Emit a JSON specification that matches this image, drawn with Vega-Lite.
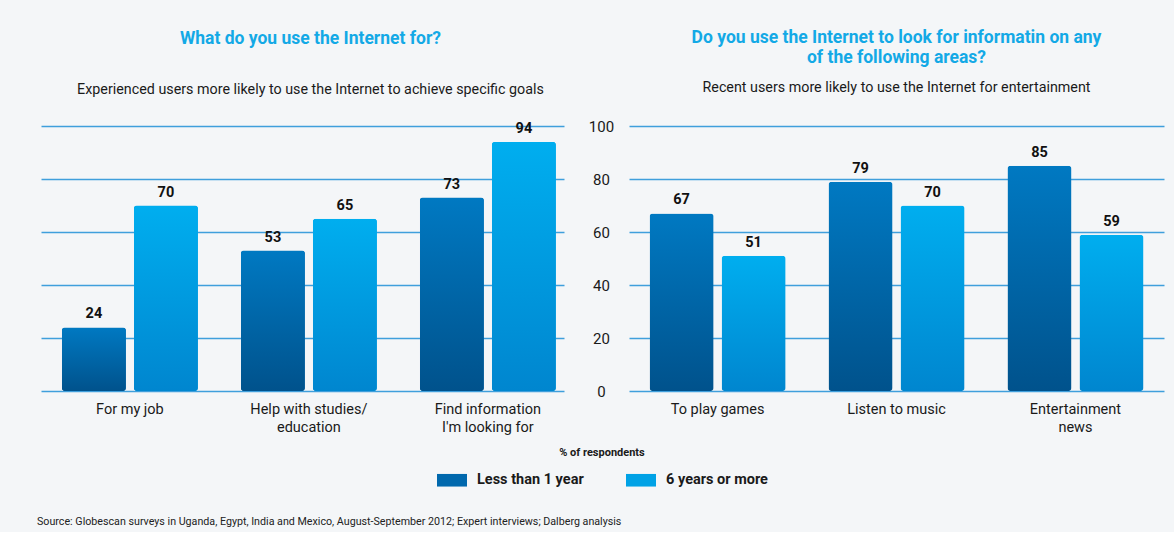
{
  "$schema": "https://vega.github.io/schema/vega-lite/v6.json",
  "background": "#f4f6f8",
  "padding": {"left": 37, "top": 29, "right": 10, "bottom": 5},
  "config": {
    "font": "Roboto",
    "view": {"stroke": null},
    "title": {"color": "#13a9e6", "fontSize": 17.5, "fontWeight": "bold", "subtitleColor": "#1a1a1a", "subtitleFontSize": 14.3, "subtitleFontWeight": "normal", "anchor": "middle", "lineHeight": 20}
  },
  "spacing": 65,
  "bounds": "flush",
  "title": {"text": "Source: Globescan surveys in Uganda, Egypt, India and Mexico, August-September 2012; Expert interviews; Dalberg analysis", "orient": "bottom", "anchor": "start", "fontSize": 10.7, "fontWeight": "normal", "color": "#222222", "dx": -4, "offset": 30},
  "hconcat": [
    {
      "width": 523,
      "height": 265,
      "title": {"text": "What do you use the Internet for?", "subtitle": "Experienced users more likely to use the Internet to achieve specific goals", "subtitlePadding": 35, "offset": 24, "dx": 8},
      "data": {"values": [
        {"category": "For my job", "group": "Less than 1 year", "value": 24},
        {"category": "For my job", "group": "6 years or more", "value": 70},
        {"category": "Help with studies/|education", "group": "Less than 1 year", "value": 53},
        {"category": "Help with studies/|education", "group": "6 years or more", "value": 65},
        {"category": "Find information|I'm looking for", "group": "Less than 1 year", "value": 73},
        {"category": "Find information|I'm looking for", "group": "6 years or more", "value": 94}
      ]},
      "encoding": {
        "x": {"field": "category", "type": "nominal", "sort": null, "title": null,
          "scale": {"paddingInner": 0.24, "paddingOuter": 0.081, "align": 0.72},
          "axis": {"labelAngle": 0, "labelExpr": "split(datum.label, '|')", "labelFontSize": 14.5, "labelColor": "#1a1a1a", "labelPadding": 11, "labelLineHeight": 18, "domain": false, "ticks": false}},
        "xOffset": {"field": "group", "type": "nominal", "sort": ["Less than 1 year", "6 years or more"], "scale": {"paddingInner": 0.111, "paddingOuter": 0}},
        "y": {"field": "value", "type": "quantitative", "scale": {"domain": [0, 100]}, "title": null,
          "axis": {"values": [0, 20, 40, 60, 80, 100], "labels": false, "ticks": false, "domain": false, "grid": true, "gridColor": "#3f9fdc", "gridWidth": 1.5}}
      },
      "layer": [
        {"mark": {"type": "bar", "cornerRadius": 3},
          "encoding": {"color": {"field": "group", "type": "nominal", "sort": ["Less than 1 year", "6 years or more"],
            "scale": {"domain": ["Less than 1 year", "6 years or more"], "range": ["#0068ad", "#00a2e6"]},
            "legend": {"title": "% of respondents", "orient": "none", "legendX": 396, "legendY": 321, "direction": "horizontal", "titleOrient": "top", "titleAnchor": "middle", "titleFontSize": 11, "titleFontWeight": "bold", "titleColor": "#1a1a1a", "titlePadding": 7, "labelFontSize": 14.5, "labelFontWeight": "bold", "labelColor": "#1a1a1a", "symbolType": "M-1,-0.42H1V0.42H-1Z", "symbolSize": 900, "symbolStrokeWidth": 0, "columnPadding": 42, "labelOffset": 10, "symbolOpacity": 1}}}},
        {"mark": {"type": "bar", "cornerRadius": 3},
          "encoding": {"color": {"condition": {"test": "datum.group === 'Less than 1 year'", "value": {"gradient": "linear", "x1": 0, "y1": 0, "x2": 0, "y2": 1, "stops": [{"offset": 0, "color": "#0079c2"}, {"offset": 1, "color": "#00528c"}]}},
            "value": {"gradient": "linear", "x1": 0, "y1": 0, "x2": 0, "y2": 1, "stops": [{"offset": 0, "color": "#00aeef"}, {"offset": 1, "color": "#0086cf"}]}}}},
        {"mark": {"type": "text", "baseline": "bottom", "dy": -6, "fontSize": 14.5, "fontWeight": "bold", "color": "#111111"},
          "encoding": {"text": {"field": "value", "type": "quantitative"}}}
      ]
    },
    {
      "width": 535,
      "height": 265,
      "title": {"text": ["Do you use the Internet to look for informatin on any", "of the following areas?"], "subtitle": "Recent users more likely to use the Internet for entertainment", "subtitlePadding": 14, "offset": 24},
      "data": {"values": [
        {"category": "To play games", "group": "Less than 1 year", "value": 67},
        {"category": "To play games", "group": "6 years or more", "value": 51},
        {"category": "Listen to music", "group": "Less than 1 year", "value": 79},
        {"category": "Listen to music", "group": "6 years or more", "value": 70},
        {"category": "Entertainment|news", "group": "Less than 1 year", "value": 85},
        {"category": "Entertainment|news", "group": "6 years or more", "value": 59}
      ]},
      "encoding": {
        "x": {"field": "category", "type": "nominal", "sort": null, "title": null,
          "scale": {"paddingInner": 0.24, "paddingOuter": 0.115},
          "axis": {"labelAngle": 0, "labelExpr": "split(datum.label, '|')", "labelFontSize": 14.5, "labelColor": "#1a1a1a", "labelPadding": 11, "labelLineHeight": 18, "domain": false, "ticks": false}},
        "xOffset": {"field": "group", "type": "nominal", "sort": ["Less than 1 year", "6 years or more"], "scale": {"paddingInner": 0.111, "paddingOuter": 0}},
        "y": {"field": "value", "type": "quantitative", "scale": {"domain": [0, 100]}, "title": null,
          "axis": {"values": [0, 20, 40, 60, 80, 100], "labelAlign": "center", "labelBaseline": "middle", "labelPadding": 28, "labelFontSize": 15, "labelColor": "#1a1a1a", "ticks": false, "domain": false, "grid": true, "gridColor": "#3f9fdc", "gridWidth": 1.5}}
      },
      "layer": [
        {"mark": {"type": "bar", "cornerRadius": 3},
          "encoding": {"color": {"condition": {"test": "datum.group === 'Less than 1 year'", "value": {"gradient": "linear", "x1": 0, "y1": 0, "x2": 0, "y2": 1, "stops": [{"offset": 0, "color": "#0079c2"}, {"offset": 1, "color": "#00528c"}]}},
            "value": {"gradient": "linear", "x1": 0, "y1": 0, "x2": 0, "y2": 1, "stops": [{"offset": 0, "color": "#00aeef"}, {"offset": 1, "color": "#0086cf"}]}}}},
        {"mark": {"type": "text", "baseline": "bottom", "dy": -6, "fontSize": 14.5, "fontWeight": "bold", "color": "#111111"},
          "encoding": {"text": {"field": "value", "type": "quantitative"}}}
      ]
    }
  ],
  "resolve": {"scale": {"x": "independent"}}
}
